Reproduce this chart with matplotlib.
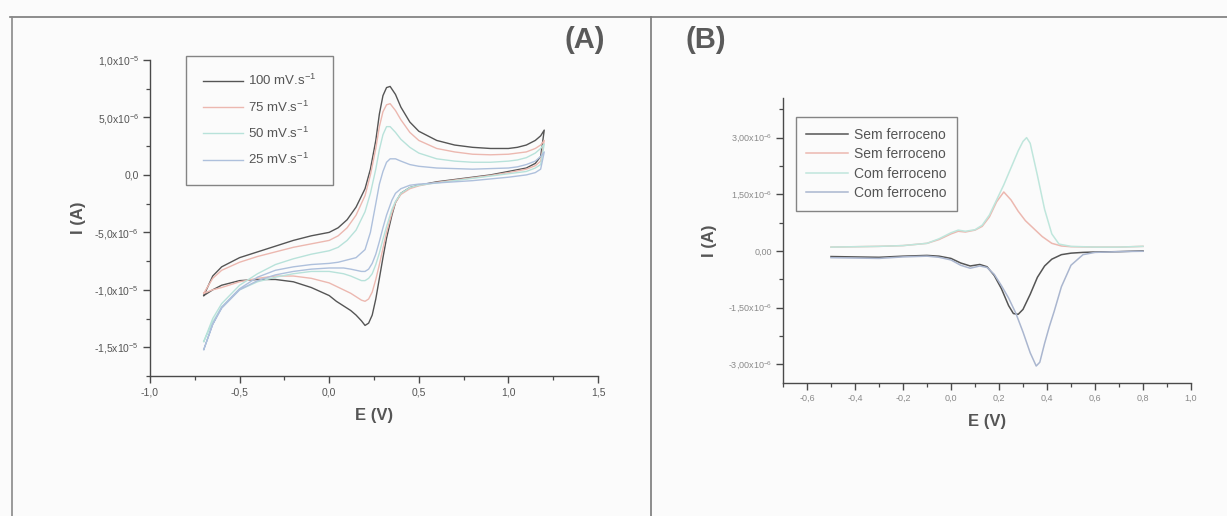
import matplotlib
matplotlib.use("Agg")
import matplotlib.pyplot as plt
import numpy as np
from matplotlib.lines import Line2D
from matplotlib.ticker import MultipleLocator, FixedLocator, FixedFormatter

plt.rcParams['font.family'] = ['Liberation Sans', 'DejaVu Sans']
plt.rcParams['mathtext.fontset'] = 'custom'
plt.rcParams['mathtext.rm'] = 'Liberation Sans'
plt.rcParams['mathtext.default'] = 'regular'

# ---------------- Panel A data (I in microampere) ----------------
A_E_fwd = [-0.70, -0.65, -0.60, -0.50, -0.40, -0.30, -0.20, -0.10, 0.00, 0.05, 0.10, 0.15, 0.20, 0.23,
           0.26, 0.28, 0.30, 0.32, 0.34, 0.37, 0.40, 0.45, 0.50, 0.60, 0.70, 0.80, 0.90, 1.00, 1.05,
           1.10, 1.15, 1.18, 1.20]
A_E_rev = [1.20, 1.18, 1.15, 1.10, 1.00, 0.90, 0.80, 0.70, 0.60, 0.50, 0.45, 0.40, 0.37, 0.35, 0.32,
           0.30, 0.28, 0.26, 0.24, 0.22, 0.20, 0.18, 0.15, 0.12, 0.08, 0.04, 0.00, -0.10, -0.20,
           -0.30, -0.40, -0.50, -0.60, -0.65, -0.70]

A_100_fwd = [-10.5, -8.8, -8.0, -7.2, -6.7, -6.2, -5.7, -5.3, -5.0, -4.6, -3.9, -2.8, -1.2, 0.5,
             3.0, 5.3, 6.9, 7.6, 7.7, 7.0, 5.9, 4.6, 3.8, 3.0, 2.6, 2.4, 2.3, 2.3, 2.4, 2.6, 3.0, 3.4, 3.9]
A_100_rev = [3.9, 1.6, 1.0, 0.6, 0.3, 0.0, -0.2, -0.4, -0.6, -0.9, -1.1, -1.6, -2.4, -3.5, -5.5,
             -7.2, -9.0, -10.8, -12.2, -12.9, -13.1, -12.7, -12.2, -11.8, -11.4, -11.0, -10.5, -9.8,
             -9.3, -9.1, -9.1, -9.2, -9.6, -10.0, -10.5]

A_75_fwd = [-10.3, -9.0, -8.3, -7.6, -7.1, -6.7, -6.3, -6.0, -5.7, -5.3, -4.6, -3.5, -1.8, 0.0,
            2.3, 4.2, 5.5, 6.1, 6.2, 5.6, 4.8, 3.7, 3.0, 2.3, 2.0, 1.8, 1.75, 1.8, 1.9, 2.0, 2.3, 2.6, 3.0]
A_75_rev = [3.0, 1.2, 0.8, 0.5, 0.2, -0.05, -0.25, -0.45, -0.65, -0.95, -1.2, -1.7, -2.4, -3.3, -5.0,
            -6.4, -7.8, -9.1, -10.2, -10.8, -11.0, -10.9, -10.6, -10.3, -10.0, -9.7, -9.4, -9.0,
            -8.8, -8.8, -9.0, -9.3, -9.8, -10.0, -10.3]

A_50_fwd = [-14.5, -12.5, -11.2, -9.6, -8.6, -7.8, -7.3, -6.9, -6.6, -6.3, -5.7, -4.8, -3.2, -1.6,
            0.5, 2.2, 3.5, 4.2, 4.2, 3.7, 3.1, 2.4, 1.9, 1.4, 1.2, 1.1, 1.1, 1.2, 1.3, 1.5, 1.9, 2.3, 2.7]
A_50_rev = [2.7, 0.9, 0.6, 0.3, 0.1, -0.1, -0.3, -0.5, -0.7, -0.9, -1.1, -1.6, -2.3, -3.0, -4.5,
            -5.6, -6.8, -7.8, -8.6, -9.0, -9.2, -9.2, -9.0, -8.8, -8.6, -8.5, -8.4, -8.4, -8.6,
            -8.9, -9.3, -10.0, -11.5, -12.8, -14.5]

A_25_fwd = [-15.2, -13.0, -11.5, -9.9, -8.9, -8.3, -8.0, -7.8, -7.7, -7.6, -7.4, -7.2, -6.5, -5.0,
            -2.5, -0.8, 0.3, 1.1, 1.4, 1.4, 1.2, 0.9, 0.75, 0.6, 0.55, 0.5, 0.55, 0.6, 0.7, 0.9, 1.2, 1.6, 2.0]
A_25_rev = [2.0, 0.5, 0.2, 0.0, -0.2, -0.35, -0.5, -0.6, -0.7, -0.8, -0.9, -1.2, -1.6, -2.2, -3.5,
            -4.6, -5.8, -6.9, -7.7, -8.2, -8.4, -8.4, -8.3, -8.2, -8.1, -8.1, -8.1, -8.2, -8.4,
            -8.7, -9.2, -10.0, -11.6, -13.0, -15.2]

A_labels = ["100 mV.s$^{-1}$", "75 mV.s$^{-1}$", "50 mV.s$^{-1}$", "25 mV.s$^{-1}$"]
A_colors = ["#555555", "#ecb8b0", "#b8e2da", "#aec0dc"]

A_xticks = [-1.0, -0.5, 0.0, 0.5, 1.0, 1.5]
A_xticklabels = ["-1,0", "-0,5", "0,0", "0,5", "1,0", "1,5"]
A_yticks = [-1.5e-5, -1.0e-5, -5.0e-6, 0.0, 5.0e-6, 1.0e-5]
A_yticklabels = ["-1,5x10$^{-5}$", "-1,0x10$^{-5}$", "-5,0x10$^{-6}$", "0,0",
                 "5,0x10$^{-6}$", "1,0x10$^{-5}$"]

# ---------------- Panel B data (I in microampere) ----------------
B_sem_neg_E = [-0.5, -0.4, -0.3, -0.2, -0.1, -0.05, 0.0, 0.04, 0.08, 0.12, 0.15, 0.18, 0.21, 0.24,
               0.26, 0.28, 0.30, 0.33, 0.36, 0.39, 0.42, 0.46, 0.50, 0.55, 0.6, 0.7, 0.8]
B_sem_neg_I = [-0.15, -0.16, -0.17, -0.14, -0.12, -0.14, -0.20, -0.32, -0.40, -0.36, -0.42, -0.65,
               -1.00, -1.45, -1.66, -1.68, -1.55, -1.15, -0.70, -0.40, -0.22, -0.10, -0.06, -0.04,
               -0.03, -0.02, 0.00]
B_sem_pos_E = [-0.5, -0.4, -0.3, -0.2, -0.1, -0.05, 0.0, 0.03, 0.06, 0.10, 0.13, 0.16, 0.19, 0.22,
               0.25, 0.28, 0.31, 0.34, 0.38, 0.42, 0.46, 0.5, 0.6, 0.7, 0.8]
B_sem_pos_I = [0.10, 0.11, 0.12, 0.14, 0.20, 0.30, 0.45, 0.52, 0.50, 0.55, 0.65, 0.90, 1.30, 1.56,
               1.35, 1.05, 0.80, 0.62, 0.38, 0.20, 0.13, 0.11, 0.10, 0.10, 0.12]
B_com_pos_E = [-0.5, -0.4, -0.3, -0.2, -0.1, -0.05, 0.0, 0.03, 0.06, 0.10, 0.13, 0.16, 0.19, 0.22,
               0.25, 0.28, 0.30, 0.315, 0.33, 0.36, 0.39, 0.42, 0.45, 0.5, 0.6, 0.7, 0.8]
B_com_pos_I = [0.10, 0.11, 0.12, 0.14, 0.20, 0.32, 0.48, 0.55, 0.52, 0.56, 0.68, 0.95, 1.35, 1.75,
               2.20, 2.65, 2.90, 3.00, 2.85, 2.00, 1.10, 0.45, 0.18, 0.12, 0.10, 0.10, 0.12]
B_com_neg_E = [-0.5, -0.4, -0.3, -0.2, -0.1, -0.05, 0.0, 0.04, 0.08, 0.12, 0.15, 0.18, 0.21, 0.24,
               0.27, 0.30, 0.33, 0.355, 0.37, 0.39, 0.41, 0.43, 0.46, 0.50, 0.55, 0.6, 0.7, 0.8]
B_com_neg_I = [-0.18, -0.19, -0.20, -0.16, -0.14, -0.17, -0.24, -0.38, -0.46, -0.40, -0.44, -0.62,
               -0.92, -1.25, -1.65, -2.15, -2.70, -3.05, -2.95, -2.45, -2.00, -1.60, -0.95, -0.38,
               -0.10, -0.04, -0.02, -0.01]

B_labels = ["Sem ferroceno", "Sem ferroceno", "Com ferroceno", "Com ferroceno"]
B_colors = ["#555555", "#ecb8b0", "#bfe6dc", "#aab6cf"]

B_xticks = [-0.6, -0.4, -0.2, 0.0, 0.2, 0.4, 0.6, 0.8, 1.0]
B_xticklabels = ["-0,6", "-0,4", "-0,2", "0,0", "0,2", "0,4", "0,6", "0,8", "1,0"]
B_yticks = [-3.0e-6, -1.5e-6, 0.0, 1.5e-6, 3.0e-6]
B_yticklabels = ["-3,00x10$^{-6}$", "-1,50x10$^{-6}$", "0,00", "1,50x10$^{-6}$", "3,00x10$^{-6}$"]

UA = 1e-6

W, H = 1227, 516
fig = plt.figure(figsize=(W / 100, H / 100), dpi=100)
fig.patch.set_facecolor("#fbfbfb")

# frame lines (scanned page borders)
fig.add_artist(Line2D([10 / W, 1.0], [1 - 17 / H, 1 - 17 / H], color="#7a7a7a", lw=1.2))
fig.add_artist(Line2D([12 / W, 12 / W], [0, 1 - 17 / H], color="#8a8a8a", lw=1.2))
fig.add_artist(Line2D([651 / W, 651 / W], [0, 1 - 17 / H], color="#7a7a7a", lw=1.2))

spine_c = "#4a4a4a"


def style_axes(ax):
    for s in ["top", "right"]:
        ax.spines[s].set_visible(False)
    for s in ["left", "bottom"]:
        ax.spines[s].set_color(spine_c)
        ax.spines[s].set_linewidth(1.0)
    ax.set_facecolor("none")
    ax.tick_params(which="major", direction="out", length=5, width=1.0, color=spine_c)
    ax.tick_params(which="minor", direction="out", length=3, width=0.9, color=spine_c)


# ---------------- Panel A ----------------
axA = fig.add_axes([150 / W, 1 - 376 / H, 448 / W, 316 / H])
style_axes(axA)
series_A = [(A_100_fwd, A_100_rev), (A_75_fwd, A_75_rev), (A_50_fwd, A_50_rev), (A_25_fwd, A_25_rev)]
handles = []
for (f, r), c, lab in zip(series_A, A_colors, A_labels):
    E = list(A_E_fwd) + list(A_E_rev)
    I = (np.array(list(f) + list(r))) * UA
    h, = axA.plot(E, I, color=c, lw=1.0, label=lab)
    handles.append(h)
axA.set_xlim(-1.0, 1.5)
axA.set_ylim(-1.75e-5, 1.0e-5)
axA.xaxis.set_major_locator(FixedLocator(A_xticks))
axA.xaxis.set_major_formatter(FixedFormatter(A_xticklabels))
axA.xaxis.set_minor_locator(MultipleLocator(0.25))
axA.yaxis.set_major_locator(FixedLocator(A_yticks))
axA.yaxis.set_major_formatter(FixedFormatter(A_yticklabels))
axA.yaxis.set_minor_locator(MultipleLocator(2.5e-6))
axA.tick_params(axis="both", which="major", labelsize=7.5, labelcolor="#555555", pad=3)
axA.set_xlabel("E (V)", fontsize=12, fontweight="bold", color="#555555", labelpad=8)
axA.set_ylabel("I (A)", fontsize=12, fontweight="bold", color="#555555", labelpad=6)
legA = axA.legend(handles=handles, loc="upper left", bbox_to_anchor=(0.08, 1.013),
                  fontsize=9.5, frameon=True, fancybox=False, edgecolor="#666666",
                  handlelength=3.0, handletextpad=0.4, labelspacing=0.85,
                  borderpad=1.3, borderaxespad=0.0, labelcolor="#555555")
legA.get_frame().set_linewidth(1.0)
legA.get_frame().set_facecolor("none")

fig.text(585 / W, 1 - 40 / H, "(A)", fontsize=21, fontweight="bold", color="#5a5a5a",
         ha="center", va="center")

# ---------------- Panel B ----------------
axB = fig.add_axes([783 / W, 1 - 383 / H, 408 / W, 285 / H])
style_axes(axB)
series_B = [(B_sem_neg_E, B_sem_neg_I), (B_sem_pos_E, B_sem_pos_I),
            (B_com_pos_E, B_com_pos_I), (B_com_neg_E, B_com_neg_I)]
hB = []
for (E, I), c, lab in zip(series_B, B_colors, B_labels):
    h, = axB.plot(E, np.array(I) * UA, color=c, lw=1.1, label=lab)
    hB.append(h)
axB.set_xlim(-0.7, 1.0)
axB.set_ylim(-3.5e-6, 4.05e-6)
axB.xaxis.set_major_locator(FixedLocator(B_xticks))
axB.xaxis.set_major_formatter(FixedFormatter(B_xticklabels))
axB.xaxis.set_minor_locator(MultipleLocator(0.1))
axB.yaxis.set_major_locator(FixedLocator(B_yticks))
axB.yaxis.set_major_formatter(FixedFormatter(B_yticklabels))
axB.yaxis.set_minor_locator(MultipleLocator(0.75e-6))
axB.tick_params(axis="both", which="major", labelsize=6.5, labelcolor="#8a8a8a", pad=3)
axB.set_xlabel("E (V)", fontsize=12, fontweight="bold", color="#555555", labelpad=8)
axB.set_ylabel("I (A)", fontsize=12, fontweight="bold", color="#555555", labelpad=8)
legB = axB.legend(handles=hB, loc="upper left", bbox_to_anchor=(0.032, 0.933),
                  fontsize=10, frameon=True, fancybox=False, edgecolor="#666666",
                  handlelength=3.0, handletextpad=0.4, labelspacing=0.4,
                  borderpad=0.75, borderaxespad=0.0, labelcolor="#555555")
legB.get_frame().set_linewidth(1.0)
legB.get_frame().set_facecolor("none")

fig.text(706 / W, 1 - 40 / H, "(B)", fontsize=21, fontweight="bold", color="#5a5a5a",
         ha="center", va="center")

fig.savefig("out.png", dpi=100, facecolor=fig.get_facecolor())
